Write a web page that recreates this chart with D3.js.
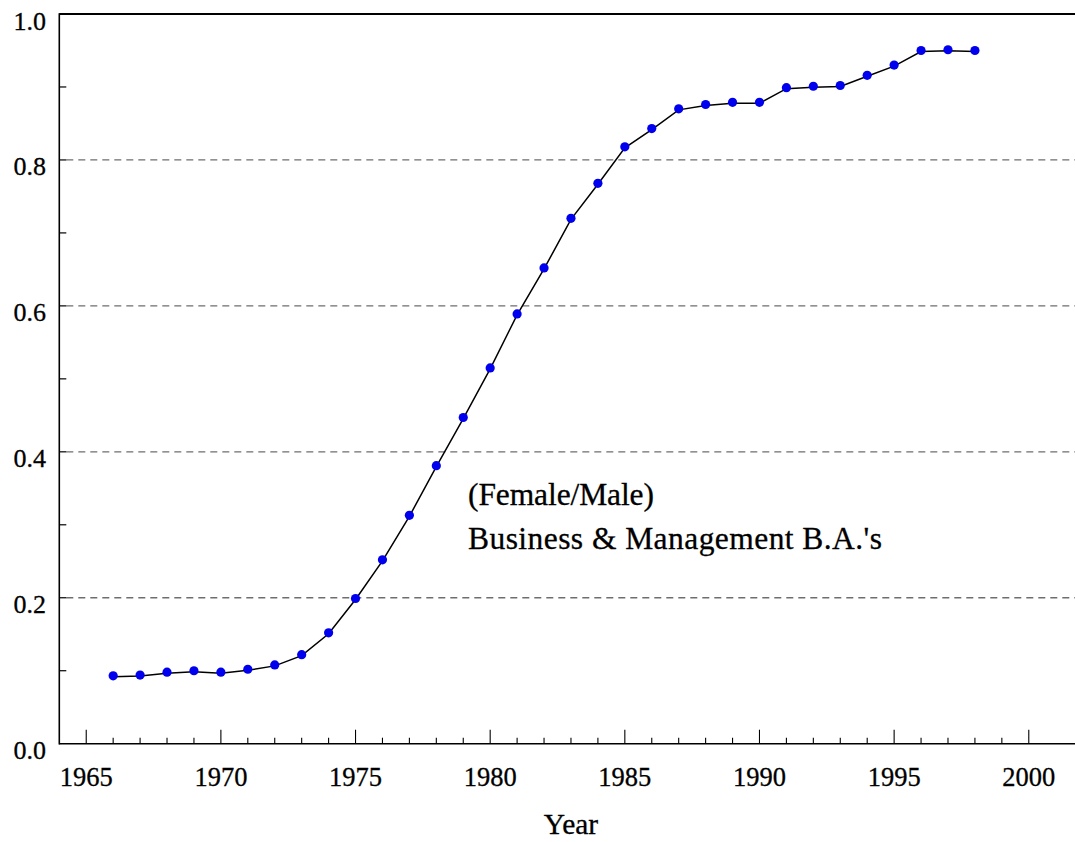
<!DOCTYPE html>
<html>
<head>
<meta charset="utf-8">
<script src="https://cdn.jsdelivr.net/npm/d3@7"></script>
<style>
  html, body { margin: 0; padding: 0; background: #fff; }
  svg { display: block; }
  svg text { font-family: 'Liberation Serif', Tinos, 'Times New Roman', Times, 'DejaVu Serif', serif; fill: #000; stroke: #000; stroke-width: 0.3px; }
</style>
</head>
<body>
<svg id="chart" width="1075" height="842"></svg>
<script>
// ---- data ----
const years = [1966,1967,1968,1969,1970,1971,1972,1973,1974,1975,1976,1977,1978,1979,1980,1981,1982,1983,1984,1985,1986,1987,1988,1989,1990,1991,1992,1993,1994,1995,1996,1997,1998];
const ratio = [0.093,0.094,0.098,0.100,0.098,0.102,0.108,0.122,0.152,0.199,0.252,0.313,0.381,0.447,0.515,0.589,0.652,0.720,0.768,0.818,0.843,0.870,0.876,0.879,0.879,0.899,0.901,0.902,0.916,0.930,0.950,0.951,0.950];
const xTickYears = [1965,1970,1975,1980,1985,1990,1995,2000];
const yTickValues = [0.0,0.2,0.4,0.6,0.8,1.0];
const yMinorValues = [0.1,0.3,0.5,0.7,0.9];
const gridValues = [0.2,0.4,0.6,0.8];
const xTitle = "Year";
const noteLines = ["(Female/Male)", "Business & Management B.A.'s"];

// ---- layout ----
const FONT = "'Liberation Serif', Tinos, 'Times New Roman', Times, 'DejaVu Serif', serif";
const svg = d3.select("#chart").attr("font-family", FONT);
const plotLeft = 59.3, plotTop = 14, plotBottom = 743.7;
const x = d3.scaleLinear().domain([1964, 2002]).range([plotLeft, plotLeft + 38 * 26.93]);
const y = d3.scaleLinear().domain([0, 1]).range([plotBottom, plotTop]);
const rightEdge = 1075;

// gridlines
svg.append("g").selectAll("line").data(gridValues).join("line")
  .attr("x1", plotLeft + 7).attr("x2", rightEdge)
  .attr("y1", d => y(d)).attr("y2", d => y(d))
  .attr("stroke", "#6e6e6e").attr("stroke-width", 1.3)
  .attr("stroke-dasharray", "7,5");

// y ticks (major + minor, inward)
svg.append("g").selectAll("line").data(gridValues.concat(yMinorValues)).join("line")
  .attr("x1", plotLeft).attr("x2", plotLeft + 7)
  .attr("y1", d => y(d)).attr("y2", d => y(d))
  .attr("stroke", "#000").attr("stroke-width", 1.2);

// x ticks
const minorYears = d3.range(1965, 2001).filter(v => xTickYears.indexOf(v) < 0);
svg.append("g").selectAll("line").data(minorYears).join("line")
  .attr("x1", d => x(d)).attr("x2", d => x(d))
  .attr("y1", plotBottom).attr("y2", plotBottom - 6)
  .attr("stroke", "#000").attr("stroke-width", 1.1);
svg.append("g").selectAll("line").data(xTickYears).join("line")
  .attr("x1", d => x(d)).attr("x2", d => x(d))
  .attr("y1", plotBottom).attr("y2", plotBottom - 14)
  .attr("stroke", "#000").attr("stroke-width", 1.1);

// frame: left, bottom, top
svg.append("line").attr("x1", plotLeft).attr("x2", plotLeft).attr("y1", plotTop - 0.8).attr("y2", plotBottom + 0.8)
  .attr("stroke", "#000").attr("stroke-width", 1.6);
svg.append("line").attr("x1", plotLeft).attr("x2", rightEdge).attr("y1", plotBottom).attr("y2", plotBottom)
  .attr("stroke", "#000").attr("stroke-width", 1.6);
svg.append("line").attr("x1", plotLeft).attr("x2", rightEdge).attr("y1", plotTop).attr("y2", plotTop)
  .attr("stroke", "#000").attr("stroke-width", 1.8);

// y labels
svg.append("g").selectAll("text").data(yTickValues).join("text")
  .attr("x", 46).attr("y", d => y(d) + 15.5)
  .attr("text-anchor", "end").attr("font-size", 26)
  .text(d => d3.format(".1f")(d));

// x labels
svg.append("g").selectAll("text").data(xTickYears).join("text")
  .attr("x", d => x(d)).attr("y", 786)
  .attr("text-anchor", "middle").attr("font-size", 26.5)
  .text(d => d);

// x title
svg.append("text").attr("x", x(1983)).attr("y", 834)
  .attr("text-anchor", "middle").attr("font-size", 29.5).text(xTitle);

// line
const pts = years.map((yr, i) => [yr, ratio[i]]);
svg.append("path").datum(pts)
  .attr("d", d3.line().x(d => x(d[0])).y(d => y(d[1])))
  .attr("transform", "translate(0,1)")
  .attr("fill", "none").attr("stroke", "#000").attr("stroke-width", 1.5);

// dots
svg.append("g").selectAll("circle").data(pts).join("circle")
  .attr("cx", d => x(d[0])).attr("cy", d => y(d[1]))
  .attr("r", 4.6).attr("fill", "#0000ee");

// annotation
const noteX = 468, noteY = [505, 549], noteW = [186, 414];
svg.append("g").selectAll("text").data(noteLines).join("text")
  .attr("x", noteX).attr("y", (d, i) => noteY[i])
  .attr("font-size", 31.5)
  .attr("textLength", (d, i) => noteW[i]).attr("lengthAdjust", "spacing")
  .text(d => d);
</script>
</body>
</html>
